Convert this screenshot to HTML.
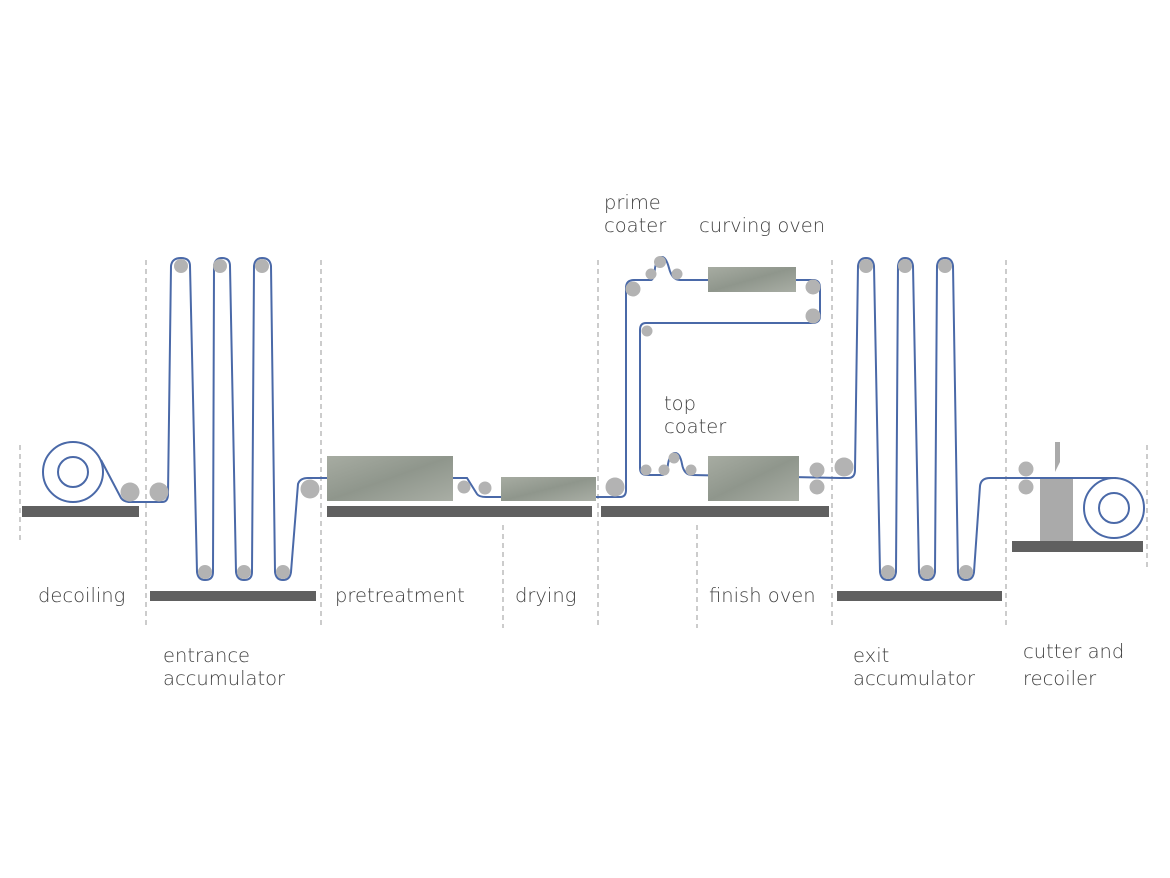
<!DOCTYPE html>
<html><head><meta charset="utf-8"><style>
html,body{margin:0;padding:0;background:#fff;}
svg{display:block;}
text{font-family:"DejaVu Sans","Liberation Sans",sans-serif;font-size:19.5px;fill:#3f3f3f;font-weight:300;}
</style></head><body>
<svg width="1170" height="878" viewBox="0 0 1170 878" xmlns="http://www.w3.org/2000/svg">
<defs>
<linearGradient id="g" x1="0" y1="0" x2="1" y2="1">
<stop offset="0" stop-color="#a7aca2"/><stop offset="0.5" stop-color="#8f968c"/><stop offset="1" stop-color="#a9aea5"/>
</linearGradient>
</defs>
<g stroke="#bbb" stroke-width="1.5" stroke-dasharray="5,4">
<line x1="20" y1="445" x2="20" y2="540"/>
<line x1="146" y1="260" x2="146" y2="628"/>
<line x1="321" y1="260" x2="321" y2="628"/>
<line x1="503" y1="525" x2="503" y2="628"/>
<line x1="598" y1="260" x2="598" y2="628"/>
<line x1="697" y1="525" x2="697" y2="628"/>
<line x1="832" y1="260" x2="832" y2="628"/>
<line x1="1006" y1="260" x2="1006" y2="628"/>
<line x1="1147" y1="445" x2="1147" y2="570"/>
</g>
<g fill="#606060">
<rect x="22" y="506" width="117" height="11"/>
<rect x="150" y="591" width="166" height="10"/>
<rect x="327" y="506" width="265" height="11"/>
<rect x="601" y="506" width="228" height="11"/>
<rect x="837" y="591" width="165" height="10"/>
<rect x="1012" y="541" width="131" height="11"/>
</g>
<!-- cutter -->
<rect x="1040" y="478" width="33" height="63" fill="#aaa"/>
<polygon points="1055,442 1060,442 1060,462 1055,472" fill="#aaa"/>
<g fill="none" stroke="#4a69a8" stroke-width="2">
<circle cx="73" cy="472" r="30"/><circle cx="73" cy="472" r="15"/>
<circle cx="1114" cy="508" r="30"/><circle cx="1114" cy="508" r="15"/>
<path d="M101,460 L121,498 Q124,502 130,502 L162,502 Q168,502 168,494 L171,266 Q172,258 181,258 Q190,258 190,266 L197,572 Q198,580 205,580 Q213,580 213,572 L214,266 Q215,258 222,258 Q230,258 230,266 L236,572 Q237,580 244,580 Q252,580 252,572 L254,266 Q255,258 262,258 Q270,258 271,266 L275,572 Q276,580 283,580 Q290,580 291,572 L298,484 Q300,478 308,478 L467,478 L477,494 Q479,497 486,497 L620,497 Q626,497 626,490 L626,288 Q626,280 634,280 L651,280 Q654,280 655,268 Q657,257 662,257 Q666,257 669,268 Q672,280 680,280 L813,280 Q820,280 820,288 L820,316 Q820,323 812,323 L646,323 Q640,323 640,330 L640,468 Q640,475 647,475 L662,475 Q667,475 668,464 Q670,453 675,453 Q680,453 682,464 Q684,475 692,475 L840,478 L848,478 Q855,478 855,470 L858,266 Q859,258 866,258 Q873,258 874,266 L880,572 Q881,580 888,580 Q895,580 896,572 L898,266 Q899,258 905,258 Q912,258 913,266 L919,572 Q920,580 927,580 Q934,580 935,572 L937,266 Q938,258 945,258 Q952,258 953,266 L958,572 Q959,580 966,580 Q973,580 974,572 L980,486 Q981,478 990,478 L1116,478"/>
</g>
<g fill="url(#g)">
<rect x="327" y="456" width="126" height="45"/>
<rect x="501" y="477" width="95" height="24"/>
<rect x="708" y="267" width="88" height="25"/>
<rect x="708" y="456" width="91" height="45"/>
</g>
<g fill="#b3b3b3">
<circle cx="130" cy="492" r="9.5"/><circle cx="159" cy="492" r="9.5"/>
<circle cx="181" cy="266" r="7"/><circle cx="220" cy="266" r="7"/><circle cx="262" cy="266" r="7"/>
<circle cx="205" cy="572" r="7"/><circle cx="244" cy="572" r="7"/><circle cx="283" cy="572" r="7"/>
<circle cx="310" cy="489" r="9.5"/>
<circle cx="464" cy="487" r="6.5"/><circle cx="485" cy="488" r="6.5"/>
<circle cx="615" cy="487" r="9.5"/>
<circle cx="633" cy="289" r="7.5"/><circle cx="651" cy="274" r="5.5"/><circle cx="660" cy="262" r="6"/><circle cx="677" cy="274" r="5.5"/>
<circle cx="813" cy="287" r="7.5"/><circle cx="813" cy="316" r="7.5"/><circle cx="647" cy="331" r="5.5"/>
<circle cx="646" cy="470" r="5.5"/><circle cx="664" cy="470" r="5.5"/><circle cx="674" cy="458" r="5.5"/><circle cx="691" cy="470" r="5.5"/>
<circle cx="817" cy="470" r="7.5"/><circle cx="817" cy="487" r="7.5"/>
<circle cx="844" cy="467" r="9.5"/>
<circle cx="866" cy="266" r="7"/><circle cx="905" cy="266" r="7"/><circle cx="945" cy="266" r="7"/>
<circle cx="888" cy="572" r="7"/><circle cx="927" cy="572" r="7"/><circle cx="966" cy="572" r="7"/>
<circle cx="1026" cy="469" r="7.5"/><circle cx="1026" cy="487" r="7.5"/>
</g>
<text x="38" y="602">decoiling</text>
<text x="163" y="662">entrance</text>
<text x="163" y="685">accumulator</text>
<text x="335" y="602">pretreatment</text>
<text x="515" y="602">drying</text>
<text x="709" y="602">finish oven</text>
<text x="853" y="662">exit</text>
<text x="853" y="685">accumulator</text>
<text x="1023" y="658">cutter and</text>
<text x="1023" y="685">recoiler</text>
<text x="604" y="209">prime</text>
<text x="604" y="232">coater</text>
<text x="699" y="232">curving oven</text>
<text x="664" y="410">top</text>
<text x="664" y="433">coater</text>
</svg>
</body></html>
